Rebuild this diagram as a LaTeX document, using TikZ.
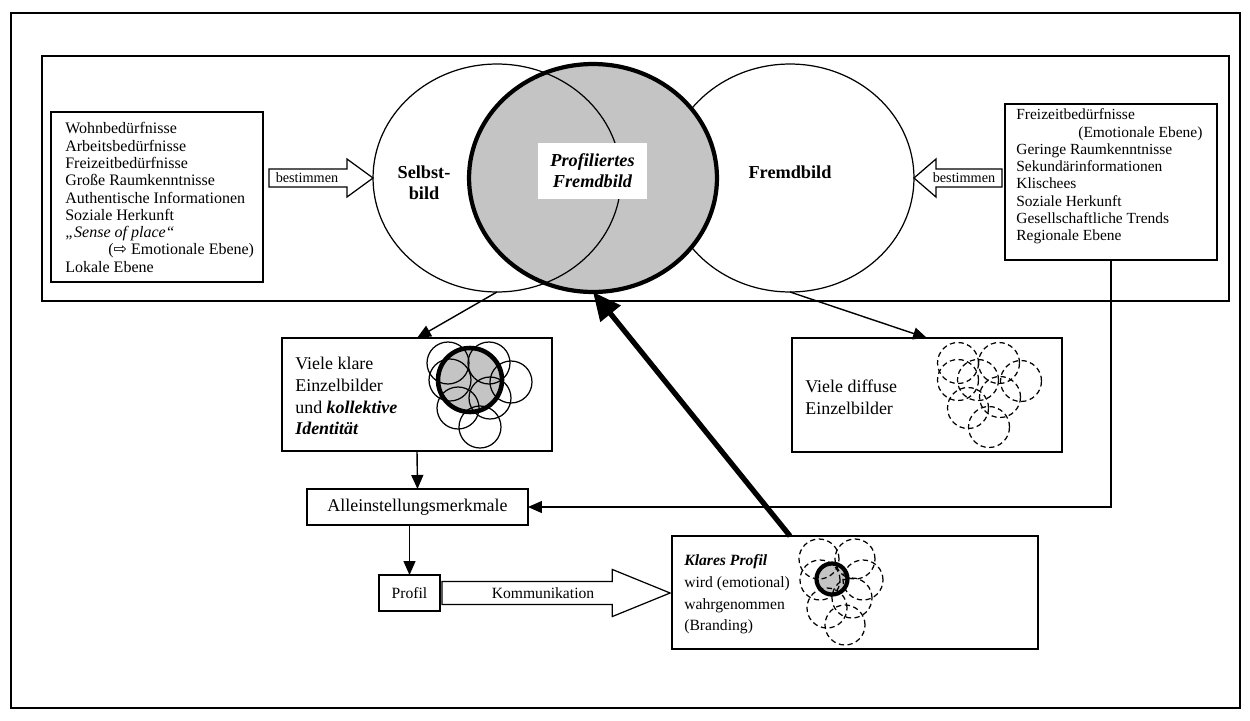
\documentclass[tikz,border=0pt]{standalone}
\usepackage{fontspec}
\setmainfont{Liberation Serif}
\newfontfamily\symfont{DejaVu Sans}
\usetikzlibrary{arrows.meta,shapes.geometric,calc}
\definecolor{fillgray}{gray}{0.77}
\begin{document}
\begin{tikzpicture}[x=0.02cm,y=-0.02cm,
  box/.style={draw, line width=0.7pt, inner sep=0pt, outer sep=0pt},
  mainfont/.style={font=\fontsize{10.2}{12.4}\selectfont},
  smallmain/.style={font=\fontsize{8.9}{12.35}\selectfont},
  txt/.style={mainfont, align=left, inner sep=0pt},
  listtxt/.style={font=\fontsize{9.1}{9.85}\selectfont, align=left, inner sep=0pt},
  ell/.style={ellipse, draw, line width=0.7pt, minimum width=4.96cm, minimum height=4.56cm, inner sep=0pt, outer sep=0pt},
  arr/.style={line width=0.8pt, -{Triangle[length=0.28cm,width=0.24cm]}},
  blockarr/.style={draw, line width=0.7pt, fill=white, line join=miter},
  thin circ/.style={draw, line width=0.7pt},
  dash circ/.style={draw, line width=0.7pt, dash pattern=on 3pt off 2pt}
]
\useasboundingbox (0,0) rectangle (1250,720);
% frames
\draw[line width=1pt] (11,13) rectangle (1240,708);
\draw[line width=0.9pt] (42,56) rectangle (1229,301);

% left list box
\node[box, minimum width=4.24cm, minimum height=3.4cm] (leftbox) at (157,197) {};
\node[listtxt, anchor=west] (ltext) at (65,197.5) {Wohnbedürfnisse\\Arbeitsbedürfnisse\\Freizeitbedürfnisse\\Große Raumkenntnisse\\Authentische Informationen\\Soziale Herkunft\\\textit{„Sense of place“}\\\hspace*{0.86cm}({\symfont ⇨} Emotionale Ebene)\\Lokale Ebene};

% right list box
\node[box, minimum width=4.24cm, minimum height=3.12cm] (rightbox) at (1111,182) {};
\node[listtxt, font=\fontsize{8.8}{9.85}\selectfont, anchor=west] (rtext) at (1016,176.5) {Freizeitbedürfnisse\\\hspace*{1.24cm}(Emotionale Ebene)\\Geringe Raumkenntnisse\\Sekundärinformationen\\Klischees\\Soziale Herkunft\\Gesellschaftliche Trends\\Regionale Ebene};

% ellipses
\node[ell] (fremd) at (790,178) {};
\node[ell, draw=none, fill=fillgray] (grayfill) at (593,178) {};
\node[ell] (selbst) at (497,178) {};
\node[ell, line width=2.4pt] (gray) at (593,178) {};

\node[font=\fontsize{10.4}{12}\selectfont\bfseries, align=center, inner sep=0pt] (selbstlbl) at (424,182.5) {Selbst-\\bild};
\node[font=\fontsize{10.4}{12}\selectfont\bfseries, inner sep=0pt] (fremdlbl) at (790,172) {Fremdbild};
\node[fill=white, minimum width=2.18cm, minimum height=1.12cm, inner sep=0pt, align=center, font=\fontsize{10.4}{12}\selectfont\bfseries\itshape] (prof) at (592.5,171) {Profiliertes\\Fremdbild};

% bestimmen block arrows
\path[blockarr] let \p1=(leftbox.east), \p2=(selbst.west) in
  (\x1+3.4pt,\y2+5.1pt) -- (\x2-14.8pt,\y2+5.1pt) -- (\x2-14.8pt,\y2+10.8pt) -- (\x2,\y2)
  -- (\x2-14.8pt,\y2-10.8pt) -- (\x2-14.8pt,\y2-5.1pt) -- (\x1+3.4pt,\y2-5.1pt) -- cycle;
\node[font=\fontsize{8.1}{9}\selectfont, inner sep=0pt] (best1) at (307,178) {bestimmen};
\path[blockarr] let \p1=(rightbox.west), \p2=(fremd.east) in
  (\x1-1.7pt,\y2+5.1pt) -- (\x2+12.5pt,\y2+5.1pt) -- (\x2+12.5pt,\y2+10.8pt) -- (\x2,\y2)
  -- (\x2+12.5pt,\y2-10.8pt) -- (\x2+12.5pt,\y2-5.1pt) -- (\x1-1.7pt,\y2-5.1pt) -- cycle;
\node[font=\fontsize{8.1}{9}\selectfont, inner sep=0pt] (best2) at (964,178) {bestimmen};

% middle boxes
\node[box, minimum width=5.4cm, minimum height=2.26cm] (klare) at (417,394.5) {};
\node[txt, anchor=west] (klaretext) at (295,396) {Viele klare\\Einzelbilder\\und \textbf{\textit{kollektive}}\\\textbf{\textit{Identität}}};
\node[box, minimum width=5.4cm, minimum height=2.28cm] (diffuse) at (927,395) {};
\node[txt, anchor=west] (difftext) at (805,397) {Viele diffuse\\Einzelbilder};

% circles in klare box
\fill[fillgray] (470,380) circle[radius=0.64cm];
\foreach \cx/\cy in {448/363, 489/363, 450/380, 511/382, 490/398, 458/408, 480/427}
  \path[thin circ] (\cx,\cy) circle[radius=0.42cm];
\draw[line width=2.6pt] (470,380) circle[radius=0.64cm];

% dashed circles in diffuse box
\foreach \cx/\cy in {958/363, 999/363, 958/380, 978/380, 1021/381, 1000/397, 968/408, 989/427}
  \path[dash circ] (\cx,\cy) circle[radius=0.41cm];

% lower boxes
\node[box, mainfont, minimum width=4.42cm, minimum height=0.72cm] (allein) at (417.5,507) {Alleinstellungsmerkmale};
\node[box, smallmain, minimum width=1.22cm, minimum height=0.72cm] (profil) at (409.5,593) {Profil};
\node[box, minimum width=7.32cm, minimum height=2.26cm] (klar) at (855,592.5) {};
\node[smallmain, align=left, inner sep=0pt, anchor=west] (klartext) at (684,594.5) {\textbf{\textit{Klares Profil}}\\wird (emotional)\\wahrgenommen\\(Branding)};

% circles in klar box
\fill[fillgray] (832,579) circle[radius=0.31cm];
\foreach \cx/\cy in {819/559, 855/559, 820/580, 863/580, 827/608, 852/598, 845/625}
  \path[dash circ] (\cx,\cy) circle[radius=0.40cm];
\draw[line width=2.4pt] (832,579) circle[radius=0.31cm];

% Kommunikation block arrow
\path[blockarr] let \p1=(profil.east), \p2=(klar.west) in
  (\x1+1.1pt,\y1+6.5pt) -- (\x2-34pt,\y1+6.5pt) -- (\x2-34pt,\y1+13.4pt) -- (\x2-1.1pt,\y1)
  -- (\x2-34pt,\y1-13.4pt) -- (\x2-34pt,\y1-6.5pt) -- (\x1+1.1pt,\y1-6.5pt) -- cycle;
\node[smallmain, inner sep=0pt] (komm) at (543,593) {Kommunikation};

% connectors
\draw[arr] (selbst.south) -- (klare.north);
\draw[arr] (fremd.south) -- (diffuse.north);
\draw[arr] (klare.south) -- (allein.north);
\draw[arr] (allein.south -| profil.north) -- (profil.north);
\draw[arr] (rightbox.south) |- (allein.east);
\draw[line width=3pt, -{Triangle[length=0.56cm,width=0.5cm]}] ($(klar.north west)+(118,0)$) -- (gray.south);
\end{tikzpicture}
\end{document}
